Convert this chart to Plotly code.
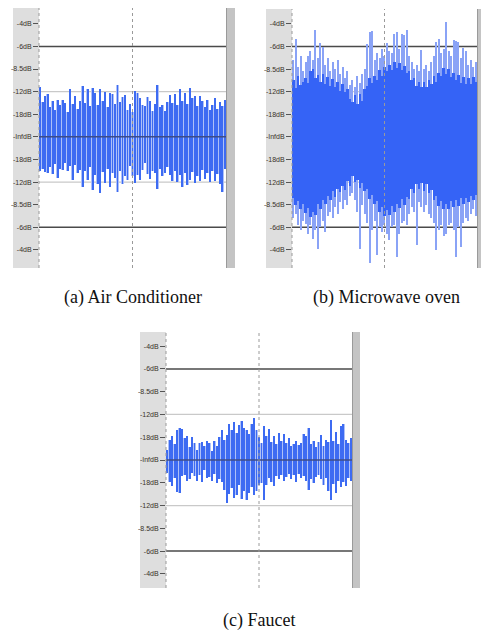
import plotly.graph_objects as go

W, H = 481, 632

tick_vals = [5, 4, 3, 2, 1, 0, -1, -2, -3, -4, -5]
tick_text = ["-4dB", "-6dB", "-8.5dB", "-12dB", "-18dB", "-InfdB",
             "-18dB", "-12dB", "-8.5dB", "-6dB", "-4dB"]
captions = ["(a) Air Conditioner", "(b) Microwave oven", "(c) Faucet"]

# (a) Air Conditioner: per-column peak envelope (tick-index units)
ac_hi = [2.20, 1.55, 1.80, 1.90, 1.30, 1.60, 1.20, 1.65, 1.40, 1.65, 1.50, 1.10, 2.10, 1.45, 1.80,
         1.25, 1.60, 2.25, 1.50, 2.10, 1.35, 2.15, 1.95, 1.40, 2.10, 1.60, 2.00, 1.30, 1.95, 1.90,
         1.45, 2.30, 1.55, 1.75, 1.85, 1.20, 1.45, 1.10, 2.05, 1.95, 1.70, 1.40, 1.35, 1.75, 1.60,
         1.15, 1.45, 2.30, 1.30, 1.40, 1.15, 1.55, 1.85, 1.50, 1.90, 1.40, 2.10, 1.60, 1.95, 1.45,
         2.15, 1.70, 1.80, 1.35, 1.80, 1.60, 1.30, 1.65, 1.20, 1.40, 1.70, 1.25, 1.55, 1.35, 1.65]
ac_lo = [-1.50, -1.40, -1.55, -1.60, -1.35, -1.65, -1.20, -1.80, -1.40, -1.45, -1.15, -1.50, -1.30,
         -1.90, -1.25, -1.60, -1.45, -2.20, -1.50, -1.90, -1.35, -2.35, -1.70, -2.10, -2.48, -1.55,
         -2.05, -1.40, -2.20, -1.60, -1.80, -2.45, -1.50, -2.10, -1.75, -1.90, -1.30, -1.75, -2.05,
         -1.70, -1.90, -1.45, -1.15, -1.65, -1.85, -1.50, -1.60, -2.30, -1.40, -1.75, -1.60, -1.35,
         -1.70, -1.95, -1.50, -2.00, -1.70, -2.20, -1.60, -2.15, -1.90, -1.55, -2.05, -1.75, -1.95,
         -1.45, -1.85, -1.60, -2.00, -1.50, -1.95, -1.65, -2.10, -2.45, -1.40]

# (b) Microwave oven: dense core envelope and peak spikes
mw_core_hi = [2.50, 2.15, 2.70, 2.30, 2.45, 2.60, 2.40, 2.90, 3.00, 2.60, 2.75, 2.45, 2.80, 2.35, 2.65,
              2.25, 2.55, 2.20, 2.45, 2.05, 2.35, 2.00, 2.10, 1.70, 1.55, 1.85, 1.45, 1.90, 1.60, 2.10,
              2.25, 2.60, 2.40, 2.70, 2.50, 2.95, 2.70, 3.10, 2.90, 3.20, 2.95, 3.30, 3.05, 3.25, 2.95,
              3.15, 2.85, 2.90, 2.50, 2.60, 2.25, 2.45, 2.20, 2.45, 2.20, 2.50, 2.35, 2.70, 2.45, 2.85,
              2.70, 3.05, 2.80, 3.00, 2.65, 2.85, 2.50, 2.75, 2.40, 2.65, 2.35, 2.60, 2.35, 2.65, 2.45]
mw_core_lo = [-2.70, -3.00, -2.85, -3.20, -2.95, -3.35, -3.15, -3.55, -3.30, -3.45, -2.95, -3.20, -2.80,
              -2.95, -2.60, -2.80, -2.40, -2.65, -2.30, -2.45, -2.15, -2.35, -1.95, -2.15, -1.75, -2.00,
              -1.90, -2.25, -2.05, -2.40, -2.30, -2.75, -2.55, -2.95, -2.85, -3.30, -3.10, -3.50, -3.25,
              -3.45, -3.05, -3.30, -2.95, -3.15, -2.75, -3.00, -2.65, -2.75, -2.30, -2.50, -2.10, -2.30,
              -2.05, -2.40, -2.10, -2.50, -2.35, -2.80, -2.60, -3.05, -2.85, -3.20, -2.95, -3.20, -2.85,
              -3.10, -2.80, -3.05, -2.70, -2.95, -2.70, -2.90, -2.60, -2.80, -2.55]
mw_peak_hi = [3.40, 4.35, 3.10, 3.60, 2.90, 3.30, 3.60, 3.80, 3.40, 4.75, 3.50, 4.15, 4.00, 3.20, 3.50,
              2.90, 3.30, 3.00, 3.40, 2.80, 3.10, 2.60, 2.90, 2.30, 2.50, 2.20, 2.70, 2.40, 2.80, 3.00,
              4.10, 4.65, 4.70, 3.40, 3.70, 3.50, 3.90, 3.60, 4.15, 3.80, 3.70, 4.55, 4.65, 3.90, 4.55,
              4.50, 4.75, 3.60, 3.30, 3.00, 3.20, 2.90, 3.85, 3.00, 3.20, 2.90, 3.30, 3.60, 4.20, 4.35,
              3.70, 3.90, 5.10, 3.80, 3.60, 4.30, 4.25, 4.20, 3.50, 3.95, 3.80, 3.20, 3.40, 3.10, 3.30]
mw_peak_lo = [-3.60, -3.40, -3.90, -4.10, -3.70, -3.85, -4.30, -3.90, -4.50, -4.10, -4.95, -4.00, -3.70,
              -4.20, -3.50, -3.30, -3.60, -3.10, -3.40, -2.90, -3.20, -2.80, -3.00, -2.60, -2.50, -2.80,
              -3.30, -4.94, -3.00, -3.40, -3.80, -5.60, -4.10, -3.70, -5.24, -4.00, -4.20, -3.90, -4.30,
              -4.57, -4.00, -3.90, -5.32, -4.28, -3.80, -3.70, -3.90, -3.40, -3.10, -3.30, -4.80, -2.90,
              -3.10, -3.30, -3.00, -3.40, -3.60, -3.80, -5.00, -4.10, -3.90, -4.40, -4.30, -3.90, -3.80,
              -4.10, -5.30, -4.00, -4.87, -3.80, -3.60, -3.70, -3.40, -3.20, -3.50]

# (c) Faucet
fc_hi = [0.45, 0.90, 1.05, 0.70, 1.30, 1.40, 1.35, 0.95, 1.05, 0.55, 1.00, 0.75, 0.45, 0.75, 0.80,
         0.60, 0.85, 0.75, 0.40, 0.85, 0.60, 1.00, 1.30, 0.90, 1.10, 1.60, 1.30, 1.65, 1.20, 1.55,
         1.70, 1.40, 1.30, 1.15, 1.60, 1.85, 1.30, 1.00, 0.75, 1.50, 1.05, 1.35, 0.80, 1.05, 0.70,
         1.20, 0.85, 1.15, 0.75, 0.95, 0.60, 0.70, 0.85, 0.65, 0.75, 1.15, 1.05, 1.40, 0.70, 0.85,
         0.55, 0.80, 1.10, 0.60, 0.90, 0.80, 1.75, 0.85, 1.25, 0.70, 1.50, 1.60, 0.90, 0.75, 0.95]
fc_lo = [-0.55, -0.95, -1.15, -0.80, -1.40, -1.45, -0.70, -0.65, -0.90, -0.85, -0.55, -0.70, -0.90,
         -0.65, -0.95, -0.45, -0.80, -0.75, -0.90, -0.60, -1.00, -0.85, -0.95, -1.30, -1.90, -1.50,
         -1.25, -1.65, -1.55, -1.10, -1.70, -1.35, -1.75, -1.45, -1.20, -1.55, -1.35, -1.10, -1.00,
         -1.75, -1.10, -0.80, -0.95, -1.15, -0.70, -0.85, -0.65, -0.90, -0.75, -0.60, -0.85, -0.65,
         -0.95, -0.60, -0.80, -0.70, -0.90, -1.30, -0.85, -1.00, -0.75, -0.65, -0.85, -1.10, -0.80,
         -1.35, -1.75, -1.05, -1.45, -0.90, -1.20, -0.95, -1.15, -0.80, -0.90]

# layout geometry in pixels
panels = [
    dict(l=39, r=226, t=8, b=268, sl=13, re=235, yr=[-5.8, 5.7], cap=(133, 297)),
    dict(l=292, r=477, t=9, b=268, sl=266, re=481, yr=[-5.8, 5.66], cap=(386, 297)),
    dict(l=166, r=352, t=332, b=588, sl=140, re=360, yr=[-5.62, 5.62], cap=(259, 620)),
]

def px(x):
    return x / W

def py(y):
    return 1 - y / H

DARK = "#3d6bf2"
LIGHT = "#adc0f8"
CORE = "#3563f6"
SPIKE = "#8aa3f6"

fig = go.Figure()

def bars(hi, lo, color, width, ax):
    xs = list(range(len(hi)))
    fig.add_trace(go.Bar(
        x=xs, y=[h - l for h, l in zip(hi, lo)], base=lo, width=width,
        marker=dict(color=color, line=dict(width=0)),
        xaxis="x" + ax, yaxis="y" + ax, showlegend=False, hoverinfo="skip"))

bars(ac_hi, ac_lo, LIGHT, 1.0, "")
bars(ac_hi, ac_lo, DARK, 0.36, "")
bars(mw_peak_hi, mw_peak_lo, SPIKE, 0.45, "2")
bars(mw_core_hi, mw_core_lo, CORE, 1.06, "2")
bars(fc_hi, fc_lo, LIGHT, 1.0, "3")
bars(fc_hi, fc_lo, DARK, 0.36, "3")

shapes = []
annotations = []
layout_axes = {}
for i, p in enumerate(panels):
    sfx = "" if i == 0 else str(i + 1)
    xa = "xaxis" + sfx
    ya = "yaxis" + sfx
    layout_axes[xa] = dict(domain=[px(p["l"]), px(p["r"])], range=[-0.5, 74.5],
                           showticklabels=False, ticks="", showgrid=False, zeroline=False,
                           showline=False, anchor="y" + sfx, fixedrange=True)
    layout_axes[ya] = dict(domain=[py(p["b"]), py(p["t"])], range=p["yr"],
                           tickvals=tick_vals, ticktext=tick_text, ticks="outside",
                           ticklen=5, tickwidth=1, tickcolor="#555555",
                           tickfont=dict(family="Liberation Sans", size=7, color="#3a3328"),
                           showgrid=False, zeroline=False, showline=False,
                           anchor="x" + sfx, fixedrange=True)
    # label strip
    shapes.append(dict(type="rect", xref="paper", yref="paper", layer="below",
                       x0=px(p["sl"]), x1=px(p["l"]), y0=py(p["b"]), y1=py(p["t"]),
                       fillcolor="#dedede", line=dict(width=0)))
    # right gray bar
    shapes.append(dict(type="rect", xref="paper", yref="paper", layer="above",
                       x0=px(p["r"]), x1=px(p["re"]), y0=py(p["b"]), y1=py(p["t"]),
                       fillcolor="#c4c4c4", line=dict(width=0)))
    shapes.append(dict(type="line", xref="paper", yref="paper", layer="above",
                       x0=px(p["r"] + 0.5), x1=px(p["r"] + 0.5), y0=py(p["b"]), y1=py(p["t"]),
                       line=dict(color="#9a9a9a", width=1)))
    yref = "y" + sfx
    xdom = "x" + sfx + " domain"
    for v, col, wd in [(2, "#c9c9c9", 1.2), (-2, "#c9c9c9", 1.2), (4, "#4a4a4a", 1.5), (-4, "#4a4a4a", 1.5)]:
        shapes.append(dict(type="line", xref=xdom, yref=yref, layer="below",
                           x0=0, x1=1, y0=v, y1=v, line=dict(color=col, width=wd)))
    shapes.append(dict(type="line", xref=xdom, yref=yref, layer="above" if i != 1 else "below",
                       x0=0, x1=1, y0=0, y1=0, line=dict(color="#3f4c86", width=1.5)))
    # dotted lines: left edge and centre
    for xd in [0.0, 0.5]:
        shapes.append(dict(type="line", xref=xdom, yref="paper", layer="above",
                           x0=xd, x1=xd, y0=py(p["b"]), y1=py(p["t"]),
                           line=dict(color="#9a9a9a", width=1, dash="dot")))
    annotations.append(dict(text=captions[i], xref="paper", yref="paper",
                            x=px(p["cap"][0]), y=py(p["cap"][1]), xanchor="center",
                            yanchor="middle", showarrow=False,
                            font=dict(family="Liberation Serif", size=18, color="#111111")))

fig.update_layout(width=W, height=H, margin=dict(l=0, r=0, t=0, b=0),
                  paper_bgcolor="white", plot_bgcolor="white", barmode="overlay",
                  bargap=0, shapes=shapes, annotations=annotations,
                  template="none", showlegend=False, **layout_axes)

fig.write_html("out.html", config={"displayModeBar": False},
               post_script="document.body.style.margin='0';document.body.style.overflow='hidden';")
